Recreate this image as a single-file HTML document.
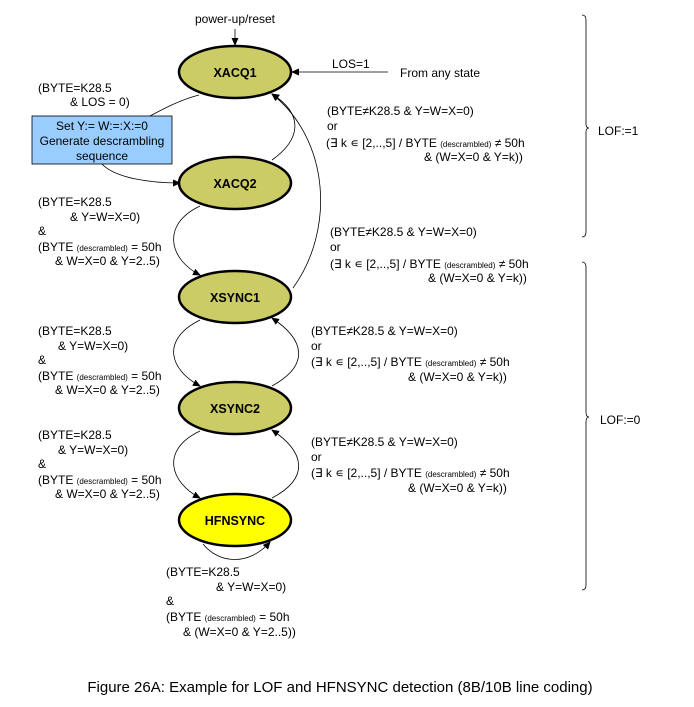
<!DOCTYPE html>
<html><head><meta charset="utf-8"><style>
body{margin:0;background:#fff;}
svg{display:block;font-family:"Liberation Sans",Arial,sans-serif;}
text{font-size:12px;fill:#000;}
.b{font-weight:bold;font-size:12.5px;}
.s{font-size:8px;}
</style></head><body>
<svg width="694" height="707" viewBox="0 0 694 707" xmlns="http://www.w3.org/2000/svg">
<defs><marker id="a" markerWidth="8" markerHeight="8" refX="7" refY="4" orient="auto" markerUnits="userSpaceOnUse"><path d="M0,0.5 L8,4 L0,7.5 z" fill="#000"/></marker></defs>
<g fill="none" stroke="#000" stroke-width="0.8">
<line x1="235" y1="29" x2="235" y2="45" marker-end="url(#a)"/>
<line x1="388" y1="72" x2="292" y2="72" marker-end="url(#a)"/>
<path d="M199,95 C180,100 165,108 150,116"/>
<path d="M102,164 C115,178 150,183 180,183" marker-end="url(#a)"/>
<path d="M272,160 C300,140 305,115 272,94" marker-end="url(#a)"/>
<path d="M293,288 C335,230 330,140 272,94" marker-end="url(#a)"/>
<path d="M200,206 C160,225 170,260 200,275" marker-end="url(#a)"/>
<path d="M200,320 C160,340 170,370 200,386" marker-end="url(#a)"/>
<path d="M272,386 C310,365 305,340 272,318" marker-end="url(#a)"/>
<path d="M200,431 C160,450 170,482 200,498" marker-end="url(#a)"/>
<path d="M272,498 C310,478 305,452 272,430" marker-end="url(#a)"/>
<path d="M203,544 C220,565 250,565 270,542" marker-end="url(#a)"/>
<path d="M582,15 Q586,15 586,20 L586,124 Q586,128 589,128 Q586,128 586,132 L586,232 Q586,237 582,237"/>
<path d="M582,262 Q586,262 586,267 L586,412 Q586,417 589,417 Q586,417 586,422 L586,585 Q586,590 582,590"/>
</g>
<g stroke="#000" stroke-width="2.5">
<ellipse cx="235" cy="72" rx="56" ry="26" fill="#cccc66"/>
<ellipse cx="235" cy="183" rx="56" ry="26" fill="#cccc66"/>
<ellipse cx="235" cy="297" rx="56" ry="26" fill="#cccc66"/>
<ellipse cx="235" cy="408" rx="56" ry="26" fill="#cccc66"/>
<ellipse cx="235" cy="520" rx="56" ry="26" fill="#ffff00"/>
</g>
<text class="b" x="235" y="77" text-anchor="middle">XACQ1</text>
<text class="b" x="235" y="188" text-anchor="middle">XACQ2</text>
<text class="b" x="235" y="302" text-anchor="middle">XSYNC1</text>
<text class="b" x="235" y="413" text-anchor="middle">XSYNC2</text>
<text class="b" x="235" y="525" text-anchor="middle">HFNSYNC</text>
<rect x="32" y="116" width="140" height="48" fill="#99ccff" stroke="#000" stroke-width="0.8"/>
<text x="102" y="130" text-anchor="middle">Set Y:= W:=:X:=0</text>
<text x="102" y="145" text-anchor="middle">Generate descrambling</text>
<text x="102" y="160" text-anchor="middle">sequence</text>
<text x="235" y="23" text-anchor="middle">power-up/reset</text>
<text x="332" y="68">LOS=1</text>
<text x="400" y="77">From any state</text>
<text x="38" y="92">(BYTE=K28.5</text>
<text x="70" y="106">&amp; LOS = 0)</text>
<text x="327" y="115">(BYTE≠K28.5 &amp; Y=W=X=0)</text>
<text x="327" y="130">or</text>
<text x="326" y="147">(∃ k ∊ [2,..,5] / BYTE <tspan class="s">(descrambled)</tspan> ≠ 50h</text>
<text x="424" y="161">&amp; (W=X=0 &amp; Y=k))</text>
<text x="330" y="236">(BYTE≠K28.5 &amp; Y=W=X=0)</text>
<text x="330" y="251">or</text>
<text x="330" y="268">(∃ k ∊ [2,..,5] / BYTE <tspan class="s">(descrambled)</tspan> ≠ 50h</text>
<text x="428" y="282">&amp; (W=X=0 &amp; Y=k))</text>
<text x="311" y="335">(BYTE≠K28.5 &amp; Y=W=X=0)</text>
<text x="311" y="350">or</text>
<text x="311" y="366">(∃ k ∊ [2,..,5] /  BYTE <tspan class="s">(descrambled)</tspan> ≠ 50h</text>
<text x="408" y="381">&amp; (W=X=0 &amp; Y=k))</text>
<text x="311" y="446">(BYTE≠K28.5 &amp; Y=W=X=0)</text>
<text x="311" y="461">or</text>
<text x="311" y="477">(∃ k ∊ [2,..,5] /  BYTE <tspan class="s">(descrambled)</tspan> ≠ 50h</text>
<text x="408" y="492">&amp; (W=X=0 &amp; Y=k))</text>
<text x="38" y="206">(BYTE=K28.5</text>
<text x="70" y="221">&amp; Y=W=X=0)</text>
<text x="38" y="235">&amp;</text>
<text x="38" y="251">(BYTE <tspan class="s">(descrambled)</tspan> = 50h</text>
<text x="55" y="265">&amp; W=X=0 &amp; Y=2..5)</text>
<text x="38" y="335">(BYTE=K28.5</text>
<text x="58" y="350">&amp; Y=W=X=0)</text>
<text x="38" y="364">&amp;</text>
<text x="38" y="380">(BYTE <tspan class="s">(descrambled)</tspan> = 50h</text>
<text x="55" y="394">&amp; W=X=0 &amp; Y=2..5)</text>
<text x="38" y="439">(BYTE=K28.5</text>
<text x="58" y="454">&amp; Y=W=X=0)</text>
<text x="38" y="468">&amp;</text>
<text x="38" y="484">(BYTE <tspan class="s">(descrambled)</tspan> = 50h</text>
<text x="55" y="498">&amp; W=X=0 &amp; Y=2..5)</text>
<text x="166" y="576">(BYTE=K28.5</text>
<text x="216" y="591">&amp; Y=W=X=0)</text>
<text x="166" y="605">&amp;</text>
<text x="166" y="621">(BYTE <tspan class="s">(descrambled)</tspan> = 50h</text>
<text x="183" y="636">&amp; (W=X=0 &amp; Y=2..5))</text>
<text x="598" y="135">LOF:=1</text>
<text x="600" y="424">LOF:=0</text>
<text x="340" y="692" text-anchor="middle" style="font-size:15px">Figure 26A: Example for LOF and HFNSYNC detection (8B/10B line coding)</text>
</svg>
</body></html>
